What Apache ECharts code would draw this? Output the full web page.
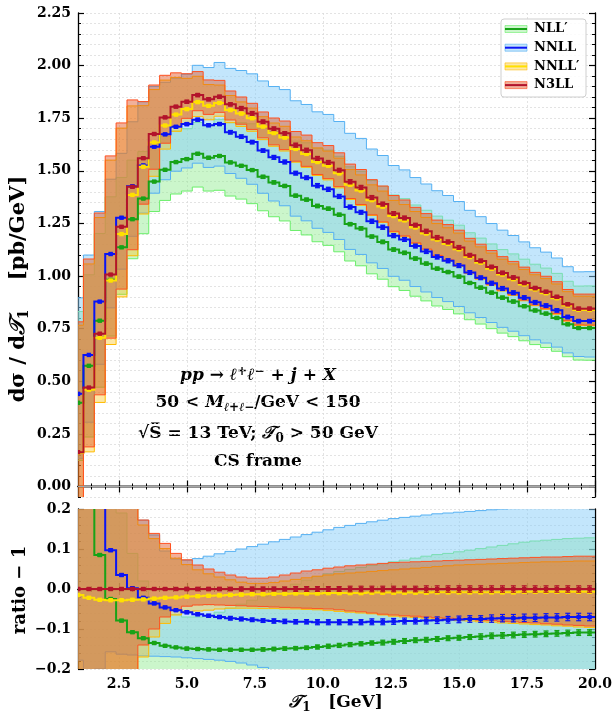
<!DOCTYPE html>
<html lang="en">
<head>
<meta charset="UTF-8">
<title>T1 resummation orders</title>
<script src="https://cdn.jsdelivr.net/npm/echarts@6/dist/echarts.min.js"></script>
<style>
    * { margin: 0; padding: 0; }
    body { width: 613px; height: 719px; overflow: hidden; background: #fff; }
    .container { width: 613px; height: 719px; }
</style>
</head>
<body>
<div class="container"></div>
<script>
    // bins: 0.4 GeV wide, first one starts at 0.8 (only half of it is inside the frame)
    const binStart = 0.8;
    const binWidth = 0.4;

    // N3LL central value, pb/GeV
    const n3llCentral = [0.163, 0.47, 0.726, 1.007, 1.234, 1.424, 1.56, 1.675, 1.754, 1.805,
        1.828, 1.860, 1.840, 1.852, 1.816, 1.797, 1.773, 1.733, 1.700, 1.678,
        1.622, 1.598, 1.559, 1.540, 1.503, 1.448, 1.421, 1.373, 1.342, 1.297,
        1.276, 1.242, 1.213, 1.183, 1.162, 1.136, 1.099, 1.072, 1.043, 1.015,
        0.993, 0.967, 0.943, 0.925, 0.901, 0.866, 0.845, 0.845];

    // everything below is "ratio - 1" w.r.t. the N3LL central value
    const nllpMid = [1.44, 0.22, 0.085, -0.025, -0.079, -0.108, -0.123, -0.135, -0.142, -0.146,
        -0.149, -0.150, -0.151, -0.152, -0.152, -0.152, -0.152, -0.151, -0.150, -0.149,
        -0.148, -0.147, -0.145, -0.143, -0.141, -0.139, -0.137, -0.135, -0.134, -0.132,
        -0.130, -0.128, -0.127, -0.125, -0.123, -0.122, -0.120, -0.119, -0.117, -0.116,
        -0.115, -0.114, -0.113, -0.112, -0.111, -0.110, -0.109, -0.109];
    const nllpHi = [4.1, 1.14, 0.656, 0.367, 0.19, 0.089, 0.02, -0.027, -0.052, -0.064,
        -0.070, -0.070, -0.066, -0.058, -0.048, -0.038, -0.028, -0.018, -0.008, 0.002,
        0.012, 0.022, 0.031, 0.038, 0.044, 0.049, 0.054, 0.059, 0.063, 0.068,
        0.072, 0.077, 0.082, 0.086, 0.089, 0.093, 0.097, 0.101, 0.105, 0.109,
        0.113, 0.117, 0.120, 0.122, 0.124, 0.126, 0.127, 0.128];
    const nllpLo = [-0.24, -0.50, -0.35, -0.29, -0.26, -0.24, -0.23, -0.22, -0.225, -0.230,
        -0.232, -0.235, -0.237, -0.240, -0.240, -0.240, -0.242, -0.244, -0.246, -0.248,
        -0.250, -0.252, -0.254, -0.256, -0.258, -0.260, -0.262, -0.264, -0.266, -0.268,
        -0.270, -0.272, -0.273, -0.275, -0.276, -0.278, -0.279, -0.280, -0.281, -0.282,
        -0.283, -0.284, -0.285, -0.286, -0.287, -0.288, -0.289, -0.290];

    const nnllMid = [1.70, 0.33, 0.21, 0.097, 0.035, 0.002, -0.022, -0.036, -0.046, -0.053,
        -0.058, -0.063, -0.067, -0.070, -0.073, -0.075, -0.077, -0.079, -0.080, -0.081,
        -0.082, -0.082, -0.083, -0.083, -0.083, -0.083, -0.083, -0.082, -0.082, -0.081,
        -0.080, -0.080, -0.079, -0.078, -0.077, -0.076, -0.075, -0.075, -0.074, -0.073,
        -0.073, -0.072, -0.072, -0.071, -0.071, -0.070, -0.070, -0.070];
    const nnllHi = [4.5, 1.34, 0.80, 0.45, 0.283, 0.217, 0.172, 0.135, 0.095, 0.075,
        0.072, 0.076, 0.082, 0.088, 0.094, 0.100, 0.106, 0.112, 0.118, 0.124,
        0.130, 0.136, 0.142, 0.148, 0.154, 0.159, 0.164, 0.168, 0.172, 0.176,
        0.179, 0.182, 0.185, 0.188, 0.190, 0.192, 0.194, 0.196, 0.198, 0.200,
        0.201, 0.202, 0.203, 0.204, 0.205, 0.206, 0.207, 0.208];
    const nnllLo = [-0.178, -0.35, -0.20, -0.157, -0.163, -0.165, -0.167, -0.168, -0.169, -0.170,
        -0.172, -0.174, -0.176, -0.178, -0.181, -0.185, -0.190, -0.196, -0.202, -0.205,
        -0.208, -0.210, -0.213, -0.216, -0.219, -0.222, -0.224, -0.226, -0.228, -0.230,
        -0.232, -0.235, -0.238, -0.241, -0.244, -0.247, -0.249, -0.251, -0.253, -0.255,
        -0.257, -0.259, -0.261, -0.263, -0.265, -0.267, -0.269, -0.272];

    const nnllpMid = [-0.015, -0.022, -0.027, -0.028, -0.028, -0.027, -0.026, -0.024, -0.022, -0.021,
        -0.019, -0.018, -0.017, -0.016, -0.015, -0.014, -0.013, -0.013, -0.012, -0.012,
        -0.011, -0.011, -0.011, -0.010, -0.010, -0.010, -0.010, -0.009, -0.009, -0.009,
        -0.009, -0.009, -0.009, -0.008, -0.008, -0.008, -0.008, -0.008, -0.008, -0.008,
        -0.008, -0.007, -0.007, -0.007, -0.007, -0.007, -0.007, -0.007];
    const nnllpHi = [3.7, 1.25, 0.76, 0.54, 0.38, 0.27, 0.16, 0.126, 0.101, 0.077,
        0.061, 0.048, 0.038, 0.030, 0.023, 0.017, 0.014, 0.014, 0.016, 0.020,
        0.024, 0.028, 0.032, 0.035, 0.038, 0.040, 0.042, 0.044, 0.046, 0.048,
        0.050, 0.052, 0.054, 0.056, 0.058, 0.060, 0.061, 0.062, 0.063, 0.064,
        0.065, 0.066, 0.067, 0.068, 0.068, 0.069, 0.070, 0.070];
    const nnllpLo = [-1.45, -0.65, -0.45, -0.33, -0.27, -0.23, -0.17, -0.12, -0.086, -0.065,
        -0.057, -0.055, -0.053, -0.050, -0.048, -0.048, -0.048, -0.049, -0.049, -0.050,
        -0.050, -0.051, -0.052, -0.054, -0.056, -0.058, -0.060, -0.062, -0.065, -0.068,
        -0.070, -0.071, -0.073, -0.075, -0.077, -0.079, -0.080, -0.082, -0.083, -0.085,
        -0.086, -0.0875, -0.089, -0.090, -0.092, -0.093, -0.095, -0.096];

    const n3llHi = [3.8, 1.3, 0.79, 0.56, 0.40, 0.29, 0.1725, 0.139, 0.114, 0.089,
        0.073, 0.060, 0.050, 0.042, 0.035, 0.030, 0.027, 0.027, 0.030, 0.035,
        0.040, 0.045, 0.048, 0.052, 0.055, 0.058, 0.060, 0.062, 0.064, 0.066,
        0.067, 0.068, 0.069, 0.070, 0.071, 0.072, 0.073, 0.074, 0.075, 0.076,
        0.077, 0.078, 0.079, 0.080, 0.080, 0.081, 0.082, 0.082];
    const n3llLo = [-1.4, -0.6, -0.40, -0.30, -0.24, -0.21, -0.14, -0.10, -0.07, -0.052,
        -0.043, -0.040, -0.039, -0.040, -0.041, -0.042, -0.043, -0.044, -0.045, -0.046,
        -0.047, -0.048, -0.049, -0.050, -0.052, -0.055, -0.057, -0.060, -0.063, -0.065,
        -0.067, -0.068, -0.070, -0.072, -0.073, -0.075, -0.076, -0.078, -0.079, -0.081,
        -0.082, -0.084, -0.085, -0.087, -0.088, -0.090, -0.091, -0.0925];

    // relative MC errors of the central values
    const nllpErr = [0.003, 0.003, 0.003, 0.003, 0.003, 0.003, 0.003, 0.003, 0.003, 0.003,
        0.004, 0.004, 0.004, 0.004, 0.004, 0.004, 0.004, 0.005, 0.005, 0.005,
        0.005, 0.005, 0.006, 0.006, 0.006, 0.006, 0.006, 0.006, 0.007, 0.007,
        0.007, 0.007, 0.007, 0.007, 0.007, 0.007, 0.007, 0.008, 0.008, 0.008,
        0.008, 0.008, 0.008, 0.008, 0.008, 0.008, 0.008, 0.008];
    const nnllErr = [0.003, 0.003, 0.003, 0.003, 0.003, 0.003, 0.003, 0.003, 0.003, 0.003,
        0.004, 0.004, 0.004, 0.004, 0.005, 0.005, 0.005, 0.005, 0.006, 0.006,
        0.006, 0.006, 0.007, 0.007, 0.007, 0.007, 0.007, 0.008, 0.008, 0.008,
        0.008, 0.008, 0.009, 0.009, 0.009, 0.009, 0.009, 0.009, 0.010, 0.010,
        0.010, 0.010, 0.010, 0.010, 0.010, 0.010, 0.010, 0.010];
    const nnllpErr = [0.002, 0.002, 0.002, 0.002, 0.002, 0.002, 0.002, 0.002, 0.002, 0.002,
        0.003, 0.003, 0.003, 0.003, 0.003, 0.003, 0.003, 0.003, 0.003, 0.003,
        0.003, 0.003, 0.003, 0.004, 0.004, 0.004, 0.004, 0.004, 0.004, 0.004,
        0.004, 0.004, 0.004, 0.004, 0.004, 0.004, 0.004, 0.004, 0.004, 0.004,
        0.004, 0.004, 0.004, 0.004, 0.004, 0.004, 0.004, 0.004];
    const n3llErr = [0.003, 0.003, 0.003, 0.003, 0.003, 0.003, 0.003, 0.003, 0.003, 0.003,
        0.004, 0.004, 0.004, 0.004, 0.004, 0.005, 0.005, 0.005, 0.005, 0.005,
        0.006, 0.006, 0.006, 0.006, 0.006, 0.007, 0.007, 0.007, 0.007, 0.007,
        0.007, 0.007, 0.008, 0.008, 0.008, 0.008, 0.008, 0.008, 0.008, 0.008,
        0.008, 0.008, 0.008, 0.008, 0.008, 0.008, 0.008, 0.008];

    const xMajor = [2.5, 5, 7.5, 10, 12.5, 15, 17.5, 20];
    const yMajorTop = [0, 0.25, 0.5, 0.75, 1, 1.25, 1.5, 1.75, 2, 2.25];
    const yMajorRatio = [-0.2, -0.1, 0, 0.1, 0.2];

    const FONT = 'DejaVu Serif';

    let container = document.querySelector('.container');
    let mychart = echarts.init(container);

    const edges = n3llCentral.map((v, i) => binStart + i * binWidth);
    const zeros = n3llCentral.map(v => v / v - 1);

    const models = [
        {name: 'NLL′', mid: nllpMid, lo: nllpLo, hi: nllpHi, err: nllpErr,
            line: '#17a317', fill: 'rgba(140,236,140,0.45)', edge: '#6aee6a'},
        {name: 'NNLL', mid: nnllMid, lo: nnllLo, hi: nnllHi, err: nnllErr,
            line: '#0a14f5', fill: 'rgba(135,206,250,0.5)', edge: '#55b0f2'},
        {name: 'NNLL′', mid: nnllpMid, lo: nnllpLo, hi: nnllpHi, err: nnllpErr,
            line: '#ffe000', fill: 'rgba(250,195,30,0.4)', edge: '#ffbb00'},
        {name: 'N3LL', mid: zeros, lo: n3llLo, hi: n3llHi, err: n3llErr,
            line: '#b3132b', fill: 'rgba(225,80,30,0.45)', edge: '#ff5020'}
    ];

    // abs values for the upper panel
    const toAbs = r => r.map((v, i) => n3llCentral[i] * (1 + v));

    function bandSeries(lo, hi, m, xi, yi) {
        return {
            type: 'custom', xAxisIndex: xi, yAxisIndex: yi, clip: true, silent: true, z: 2,
            data: lo.map((v, i) => [edges[i], v, hi[i]]),
            renderItem: function (params, api) {
                if (params.dataIndex !== 0) return null;
                let top = [], bot = [];
                lo.forEach((v, i) => {
                    top.push(api.coord([edges[i], hi[i]]), api.coord([edges[i] + binWidth, hi[i]]));
                    bot.push(api.coord([edges[i], v]), api.coord([edges[i] + binWidth, v]));
                });
                return {
                    type: 'group',
                    children: [
                        {type: 'polygon', shape: {points: top.concat(bot.slice().reverse())},
                            style: {fill: m.fill}},
                        {type: 'polyline', shape: {points: top}, style: {stroke: m.edge, lineWidth: 1, fill: null}},
                        {type: 'polyline', shape: {points: bot}, style: {stroke: m.edge, lineWidth: 1, fill: null}}
                    ]
                };
            }
        };
    }

    function lineSeries(vals, errAbs, m, xi, yi) {
        return {
            type: 'custom', xAxisIndex: xi, yAxisIndex: yi, clip: true, silent: true, z: 5,
            data: vals.map((v, i) => [edges[i] + binWidth / 2, v]),
            renderItem: function (params, api) {
                if (params.dataIndex !== 0) return null;
                let pts = [];
                let kids = [];
                vals.forEach((v, i) => {
                    pts.push(api.coord([edges[i], v]), api.coord([edges[i] + binWidth, v]));
                });
                kids.push({type: 'polyline', shape: {points: pts},
                    style: {stroke: m.line, lineWidth: 2, fill: null}});
                vals.forEach((v, i) => {
                    const xc = edges[i] + binWidth / 2;
                    const c = api.coord([xc, v]);
                    const a = api.coord([xc, v + errAbs[i]]);
                    const b = api.coord([xc, v - errAbs[i]]);
                    kids.push({type: 'line', shape: {x1: c[0], y1: a[1], x2: c[0], y2: b[1]},
                        style: {stroke: m.line, lineWidth: 1.2}});
                    kids.push({type: 'line', shape: {x1: c[0] - 2.5, y1: a[1], x2: c[0] + 2.5, y2: a[1]},
                        style: {stroke: m.line, lineWidth: 1.2}});
                    kids.push({type: 'line', shape: {x1: c[0] - 2.5, y1: b[1], x2: c[0] + 2.5, y2: b[1]},
                        style: {stroke: m.line, lineWidth: 1.2}});
                    kids.push({type: 'rect', shape: {x: c[0] - 2.2, y: c[1] - 2.2, width: 4.4, height: 4.4},
                        style: {fill: m.line}});
                });
                return {type: 'group', children: kids};
            }
        };
    }

    let series = [];
    // upper panel
    models.forEach(m => series.push(bandSeries(toAbs(m.lo), toAbs(m.hi), m, 0, 0)));
    series[0].markLine = {
        silent: true, symbol: ['none', 'none'], label: {show: false},
        lineStyle: {color: '#a8a8a8', width: 1, type: 'solid'},
        data: [{yAxis: 0}]
    };
    models.forEach(m => {
        const abs = toAbs(m.mid);
        series.push(lineSeries(abs, abs.map((v, i) => v * m.err[i]), m, 0, 0));
    });
    // ratio panel
    models.forEach(m => series.push(bandSeries(m.lo, m.hi, m, 4, 4)));
    models.forEach(m => {
        series.push(lineSeries(m.mid, m.mid.map((v, i) => (1 + v) * m.err[i]), m, 4, 4));
    });

    const gridColor = '#dcdcdc';
    const labelStyle = {fontFamily: FONT, fontWeight: 'bold', fontSize: 14, color: '#000'};

    function xAxes(gi, withLabels) {
        const line = {show: true, lineStyle: {color: '#000', width: 1.3}};
        const minor = pos => ({
            gridIndex: gi, type: 'value', position: pos, min: 1, max: 20, interval: 0.5,
            axisLine: line, axisTick: {inside: true, length: 3, lineStyle: {color: '#000'}},
            axisLabel: {show: false}, splitLine: {show: false}
        });
        const major = (pos, labels, grid) => ({
            gridIndex: gi, type: 'value', position: pos, min: 1, max: 20,
            axisLine: {show: false},
            axisTick: {inside: true, length: 6, customValues: xMajor, lineStyle: {color: '#000', width: 1.2}},
            axisLabel: labels ? Object.assign({show: true, customValues: xMajor, margin: 8,
                formatter: v => v.toFixed(1)}, labelStyle) : {show: false},
            splitLine: {show: grid, lineStyle: {color: gridColor, type: [2, 2], width: 0.8}}
        });
        return [minor('bottom'), major('bottom', withLabels, true), minor('top'), major('top', false, false)];
    }

    function yAxes(gi, min, max, step, majors, fmt) {
        const line = {show: true, lineStyle: {color: '#000', width: 1.3}};
        const minor = pos => ({
            gridIndex: gi, type: 'value', position: pos, min: min, max: max, interval: step,
            axisLine: line, axisTick: {inside: true, length: 3, lineStyle: {color: '#000'}},
            axisLabel: {show: false},
            splitLine: {show: pos === 'left', lineStyle: {color: gridColor, type: [2, 2], width: 0.8}}
        });
        const major = (pos, labels) => ({
            gridIndex: gi, type: 'value', position: pos, min: min, max: max,
            axisLine: {show: false},
            axisTick: {inside: true, length: 6, customValues: majors, lineStyle: {color: '#000', width: 1.2}},
            axisLabel: labels ? Object.assign({show: true, customValues: majors, margin: 7, formatter: fmt}, labelStyle)
                : {show: false},
            splitLine: {show: false}
        });
        return [minor('left'), major('left', true), minor('right'), major('right', false)];
    }

    const fmtTop = v => v.toFixed(2);
    const fmtRatio = v => (v < -1e-9 ? '−' : '') + Math.abs(v).toFixed(1);

    function richFor(size) {
        const s = Math.round(size * 0.68);
        return {
            it: {fontFamily: FONT, fontWeight: 'bold', fontStyle: 'italic', fontSize: size},
            sub: {fontFamily: FONT, fontWeight: 'bold', fontStyle: 'italic', fontSize: s, padding: [Math.round(size * 0.5), 0, 0, 0]},
            subr: {fontFamily: FONT, fontWeight: 'bold', fontSize: s, padding: [Math.round(size * 0.5), 0, 0, 0]},
            sup: {fontFamily: FONT, fontWeight: 'bold', fontSize: s, padding: [0, 0, Math.round(size * 0.5), 0]}
        };
    }
    const txt = (x, y, text, size, rot) => ({
        type: 'text', x: x, y: y, rotation: rot || 0, silent: true,
        style: {text: text, rich: richFor(size), fill: '#000', align: 'center', verticalAlign: 'middle',
            font: 'bold ' + size + 'px "' + FONT + '"'}
    });

    let graphic = [
        txt(258, 376, '{it|pp} → {it|ℓ}{sup|+}{it|ℓ}{sup|−} + {it|j} + {it|X}', 17),
        txt(258, 403, '50 < {it|M}{sub|ℓ}{subr|+}{sub|ℓ}{subr|−}/GeV < 150', 17),
        txt(258, 434, '√S̅ = 13 TeV; {it|𝒯}{subr|0} > 50 GeV', 17),
        txt(258, 462, 'CS frame', 17),
        txt(19, 289, 'dσ / d{it|𝒯}{subr|1}    [pb/GeV]', 21, Math.PI / 2),
        txt(20, 590, 'ratio − 1', 18, Math.PI / 2),
        txt(336, 703, '{it|𝒯}{subr|1}   [GeV]', 17)
    ];
    // legend box
    graphic.push({type: 'rect', silent: true, shape: {x: 501, y: 19, width: 85, height: 78, r: 3},
        style: {fill: 'rgba(255,255,255,0.85)', stroke: '#cfcfcf', lineWidth: 1}, z: 20});
    models.forEach((m, k) => {
        const y = 29 + k * 18.7;
        graphic.push({type: 'rect', silent: true, z: 21, shape: {x: 505, y: y - 3.5, width: 22, height: 7},
            style: {fill: m.fill, stroke: m.edge, lineWidth: 0.6}});
        graphic.push({type: 'line', silent: true, z: 22, shape: {x1: 505, y1: y, x2: 527, y2: y},
            style: {stroke: m.line, lineWidth: 2}});
        graphic.push({type: 'text', silent: true, z: 22, x: 534, y: y,
            style: {text: m.name, fill: '#000', verticalAlign: 'middle', font: 'bold 13px "' + FONT + '"'}});
    });

    let options = {
        animation: false,
        backgroundColor: '#fff',
        grid: [
            {left: 78, top: 13, width: 517, height: 484, outerBoundsMode: 'none'},
            {left: 78, top: 509, width: 517, height: 160, outerBoundsMode: 'none'}
        ],
        xAxis: xAxes(0, false).concat(xAxes(1, true)),
        yAxis: yAxes(0, -0.05, 2.25, 0.05, yMajorTop, fmtTop)
            .concat(yAxes(1, -0.2, 0.2, 0.02, yMajorRatio, fmtRatio)),
        series,
        graphic
    };

    mychart.setOption(options);
</script>
</body>
</html>
